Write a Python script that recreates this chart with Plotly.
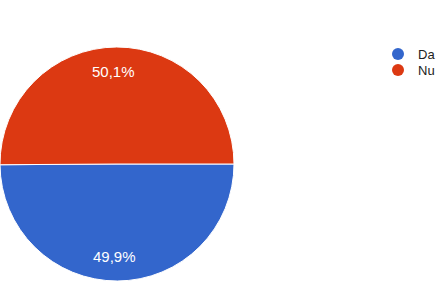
import math
import plotly.graph_objects as go

labels = ["Da", "Nu"]
values = [49.9, 50.1]
colors = ["#3366cc", "#dc3912"]

W, H = 436, 291
cx, cy, r = 117, 164, 117

fig = go.Figure()
fig.add_trace(go.Pie(
    labels=labels, values=values, sort=False, direction="clockwise", rotation=90,
    marker=dict(colors=colors, line=dict(color="white", width=1)),
    textposition="none", showlegend=False, hoverinfo="skip",
    domain=dict(x=[(cx - r) / W, (cx + r) / W], y=[1 - (cy + r) / H, 1 - (cy - r) / H]),
))

# slice labels placed along each slice's mid-angle
total = sum(values)
start = 90.0  # degrees clockwise from 12 o'clock
for v in values:
    mid = start + 360 * v / total / 2
    start += 360 * v / total
    rad = math.radians(mid)
    px = cx - 3 + 0.79 * r * math.sin(rad)
    py = cy - 0.79 * r * math.cos(rad)
    fig.add_annotation(x=px / W, y=1 - py / H, xref="paper", yref="paper",
                       xanchor="center", yanchor="middle",
                       text=f"{100 * v / total:.1f}%".replace(".", ","), showarrow=False,
                       font=dict(color="white", size=15, family="Liberation Sans, Arial"))

legend_tops = [39, 55]
for i, (lab, col) in enumerate(zip(labels, colors)):
    lg = "legend" if i == 0 else f"legend{i + 1}"
    fig.add_trace(go.Scatter(x=[None], y=[None], mode="markers", name=lab, legend=lg,
                             marker=dict(color=col, size=12, symbol="circle")))
    fig.update_layout({lg: dict(x=378 / W, y=1 - legend_tops[i] / H, xanchor="left", yanchor="top",
                                font=dict(size=13, color="#222222", family="Liberation Sans, Arial"),
                                itemwidth=30, bgcolor="rgba(0,0,0,0)")})

fig.update_layout(
    width=W, height=H, margin=dict(l=0, r=0, t=0, b=0, autoexpand=False),
    paper_bgcolor="white", plot_bgcolor="white",
    xaxis=dict(visible=False), yaxis=dict(visible=False),
    font=dict(family="Liberation Sans, Arial"),
)
fig.write_html("out.html")
